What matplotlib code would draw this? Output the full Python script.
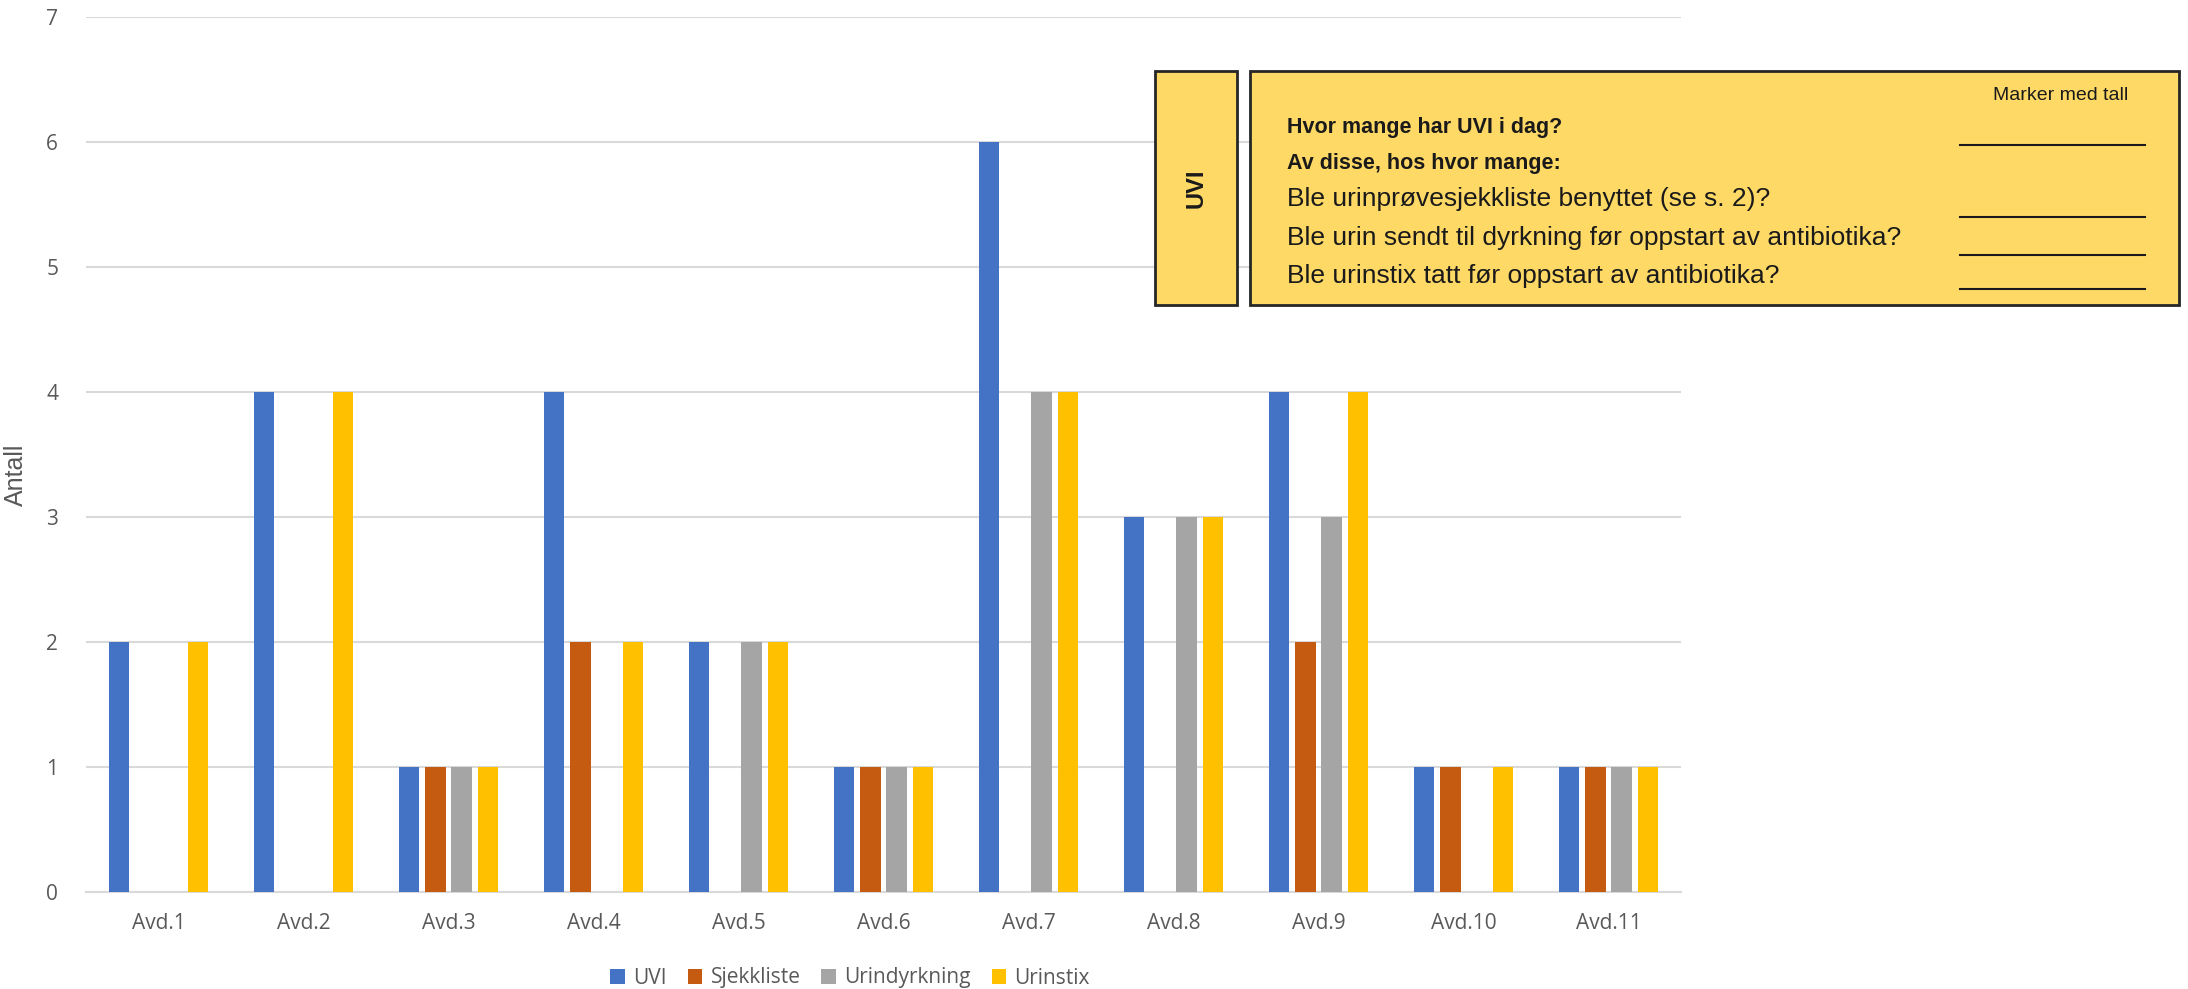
import matplotlib.pyplot as plt
import numpy as np
from matplotlib.patches import Rectangle

categories = ["Avd.1", "Avd.2", "Avd.3", "Avd.4", "Avd.5", "Avd.6",
              "Avd.7", "Avd.8", "Avd.9", "Avd.10", "Avd.11"]
series_names = ["UVI", "Sjekkliste", "Urindyrkning", "Urinstix"]
uvi = [2, 4, 1, 4, 2, 1, 6, 3, 4, 1, 1]
sjekkliste = [0, 0, 1, 2, 0, 1, 0, 0, 2, 1, 1]
urindyrkning = [0, 0, 1, 0, 2, 1, 4, 3, 3, 0, 1]
urinstix = [2, 4, 1, 2, 2, 1, 4, 3, 4, 1, 1]
colors = ["#4472C4", "#C55A11", "#A5A5A5", "#FFC000"]

box_title = "UVI"
box_header = "Marker med tall"
box_bold = ["Hvor mange har UVI i dag?", "Av disse, hos hvor mange:"]
box_questions = ["Ble urinprøvesjekkliste benyttet (se s. 2)?",
                 "Ble urin sendt til dyrkning før oppstart av antibiotika?",
                 "Ble urinstix tatt før oppstart av antibiotika?"]

grey = "#595959"
tick_font = ["Open Sans", "DejaVu Sans"]
narrow_font = ["Liberation Sans Narrow", "Liberation Sans", "DejaVu Sans"]

fig = plt.figure(figsize=(21.88, 9.89), dpi=100)
ax = fig.add_axes([86/2188, 1-892/989, (1681-86)/2188, (892-17)/989])

x = np.arange(len(categories))
width = 0.141
step = 0.181
for i, (vals, name) in enumerate(zip([uvi, sjekkliste, urindyrkning, urinstix],
                                     series_names)):
    offs = (i-1.5)*step
    v = np.array(vals, dtype=float)
    ax.bar(x+offs, v, width, color=colors[i], label=name, zorder=3)

ax.set_xlim(-0.5, len(categories)-0.5)
ax.set_ylim(0, 7)
ax.set_yticks(np.arange(0, 8, 1))
ax.set_xticks(x)
ax.set_xticklabels(categories)
ax.grid(axis="y", color="#D9D9D9", lw=1.5, zorder=0)
for s in ["top", "right", "left"]:
    ax.spines[s].set_visible(False)
ax.spines["bottom"].set_color("#D9D9D9")
ax.spines["bottom"].set_linewidth(1.5)
ax.tick_params(length=0, labelcolor=grey, labelsize=15)
ax.tick_params(axis="x", pad=15)
ax.tick_params(axis="y", pad=20)
for lab in ax.get_xticklabels() + ax.get_yticklabels():
    lab.set_family(tick_font)
ax.set_ylabel("Antall", color=grey, fontsize=18, family=narrow_font)
ax.yaxis.set_label_coords(28/2188, 1-475/989, transform=fig.transFigure)

fig.legend(loc="center", bbox_to_anchor=(850/2188, 1-978/989), ncol=4,
           frameon=False, handlelength=0.7, handleheight=0.7,
           handletextpad=0.4, columnspacing=1.0,
           prop={"family": tick_font, "size": 15}, labelcolor=grey)

# yellow form box
W, H = 2188, 989


def fx(px):
    return px/W


def fy(py):
    return 1-py/H


for (x0, x1) in [(1155, 1237), (1250, 2179)]:
    fig.patches.append(Rectangle((fx(x0), fy(305)), fx(x1-x0), (305-71)/H,
                                 transform=fig.transFigure,
                                 facecolor="#FFD966", edgecolor="#262626",
                                 lw=2, zorder=5))
fig.text(fx(1196), fy(188), box_title, rotation=90, ha="center",
         va="center", fontsize=17, fontweight="bold", family=narrow_font,
         color="#1a1a1a", zorder=6)
fig.text(fx(2061), fy(96), box_header, ha="center", va="center",
         fontsize=14, family=narrow_font, color="#1a1a1a", zorder=6)
for txt, py in zip(box_bold, [127, 164]):
    fig.text(fx(1287), fy(py), txt, ha="left", va="center", fontsize=15.5,
             fontweight="bold", family=narrow_font, color="#1a1a1a", zorder=6)
for txt, py in zip(box_questions, [199, 238, 276]):
    fig.text(fx(1287), fy(py), txt, ha="left", va="center", fontsize=19,
             family=narrow_font, color="#1a1a1a", zorder=6)
for py in [145, 217, 255, 289]:
    fig.lines.append(plt.Line2D([fx(1960), fx(2145)], [fy(py), fy(py)],
                                transform=fig.transFigure, color="#1a1a1a",
                                lw=1.5, zorder=6))

fig.savefig("out.png", dpi=100)
